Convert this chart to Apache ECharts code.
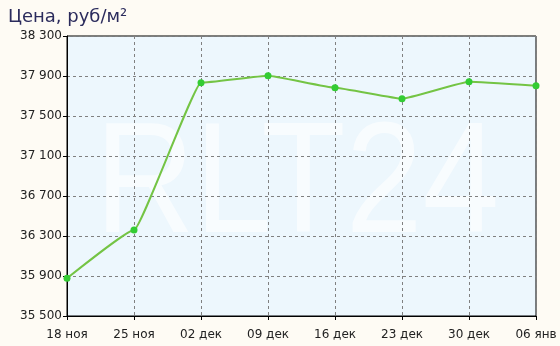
<!DOCTYPE html>
<html><head><meta charset="utf-8">
<script src="https://cdn.jsdelivr.net/npm/echarts@6/dist/echarts.min.js"></script>
<style>html,body{margin:0;padding:0;background:#fefbf4;}#c{width:560px;height:346px;}</style>
</head><body><div id="c"></div>
<script>
var categories = ['18 ноя','25 ноя','02 дек','09 дек','16 дек','23 дек','30 дек','06 янв'];
var prices = [35877, 36360, 37833, 37903, 37783, 37673, 37843, 37803];
var yMin = 35500, yMax = 38300, yStep = 400;
var titleText = 'Цена, руб/м²';
var watermark = 'RLT24';

var chart = echarts.init(document.getElementById('c'), null, {renderer:'canvas'});
chart.setOption({
  backgroundColor: '#fefbf4',
  animation: false,
  title: {text: titleText, left: 3, top: 3,
    textStyle: {fontFamily: 'DejaVu Sans', fontSize: 18, fontWeight: 'normal', color: '#2b2b5c'}},
  grid: {left: 67, right: 24, top: 36, bottom: 30, show: true, backgroundColor: '#edf7fd', borderColor: '#000', borderWidth: 1},
  graphic: [{type: 'text', x: 95, y: 110, scaleX: 0.88, silent: true, z: 0,
    style: {text: watermark, font: '157px "Liberation Sans"', fill: 'rgba(255,255,255,0.6)'}}],
  xAxis: {type: 'category', data: categories, boundaryGap: false,
    axisLine: {lineStyle: {color: '#000', width: 1}},
    axisTick: {show: true, length: 4, inside: false, lineStyle: {color: '#000'}},
    axisLabel: {fontFamily: 'DejaVu Sans', fontSize: 12, color: '#222', margin: 13, interval: 0},
    splitLine: {show: true, lineStyle: {color: '#808080', type: [3,3], width: 1}}},
  yAxis: {type: 'value', min: yMin, max: yMax, interval: yStep,
    axisLine: {show: true, lineStyle: {color: '#000', width: 1}},
    axisTick: {show: true, length: 4, lineStyle: {color: '#000'}},
    axisLabel: {fontFamily: 'DejaVu Sans', fontSize: 12, color: '#222', margin: 5,
      formatter: function(v){return String(v).replace(/\B(?=(\d{3})+(?!\d))/g,' ');}},
    splitLine: {show: true, lineStyle: {color: '#808080', type: [3,3], width: 1}}},
  series: [{type: 'line', data: prices, smooth: 0.1, smoothMonotone: 'x', symbol: 'circle', symbolSize: 7,
    lineStyle: {color: '#74c444', width: 2},
    itemStyle: {color: '#33cc33', borderWidth: 0}, z: 5}]
});
</script></body></html>
